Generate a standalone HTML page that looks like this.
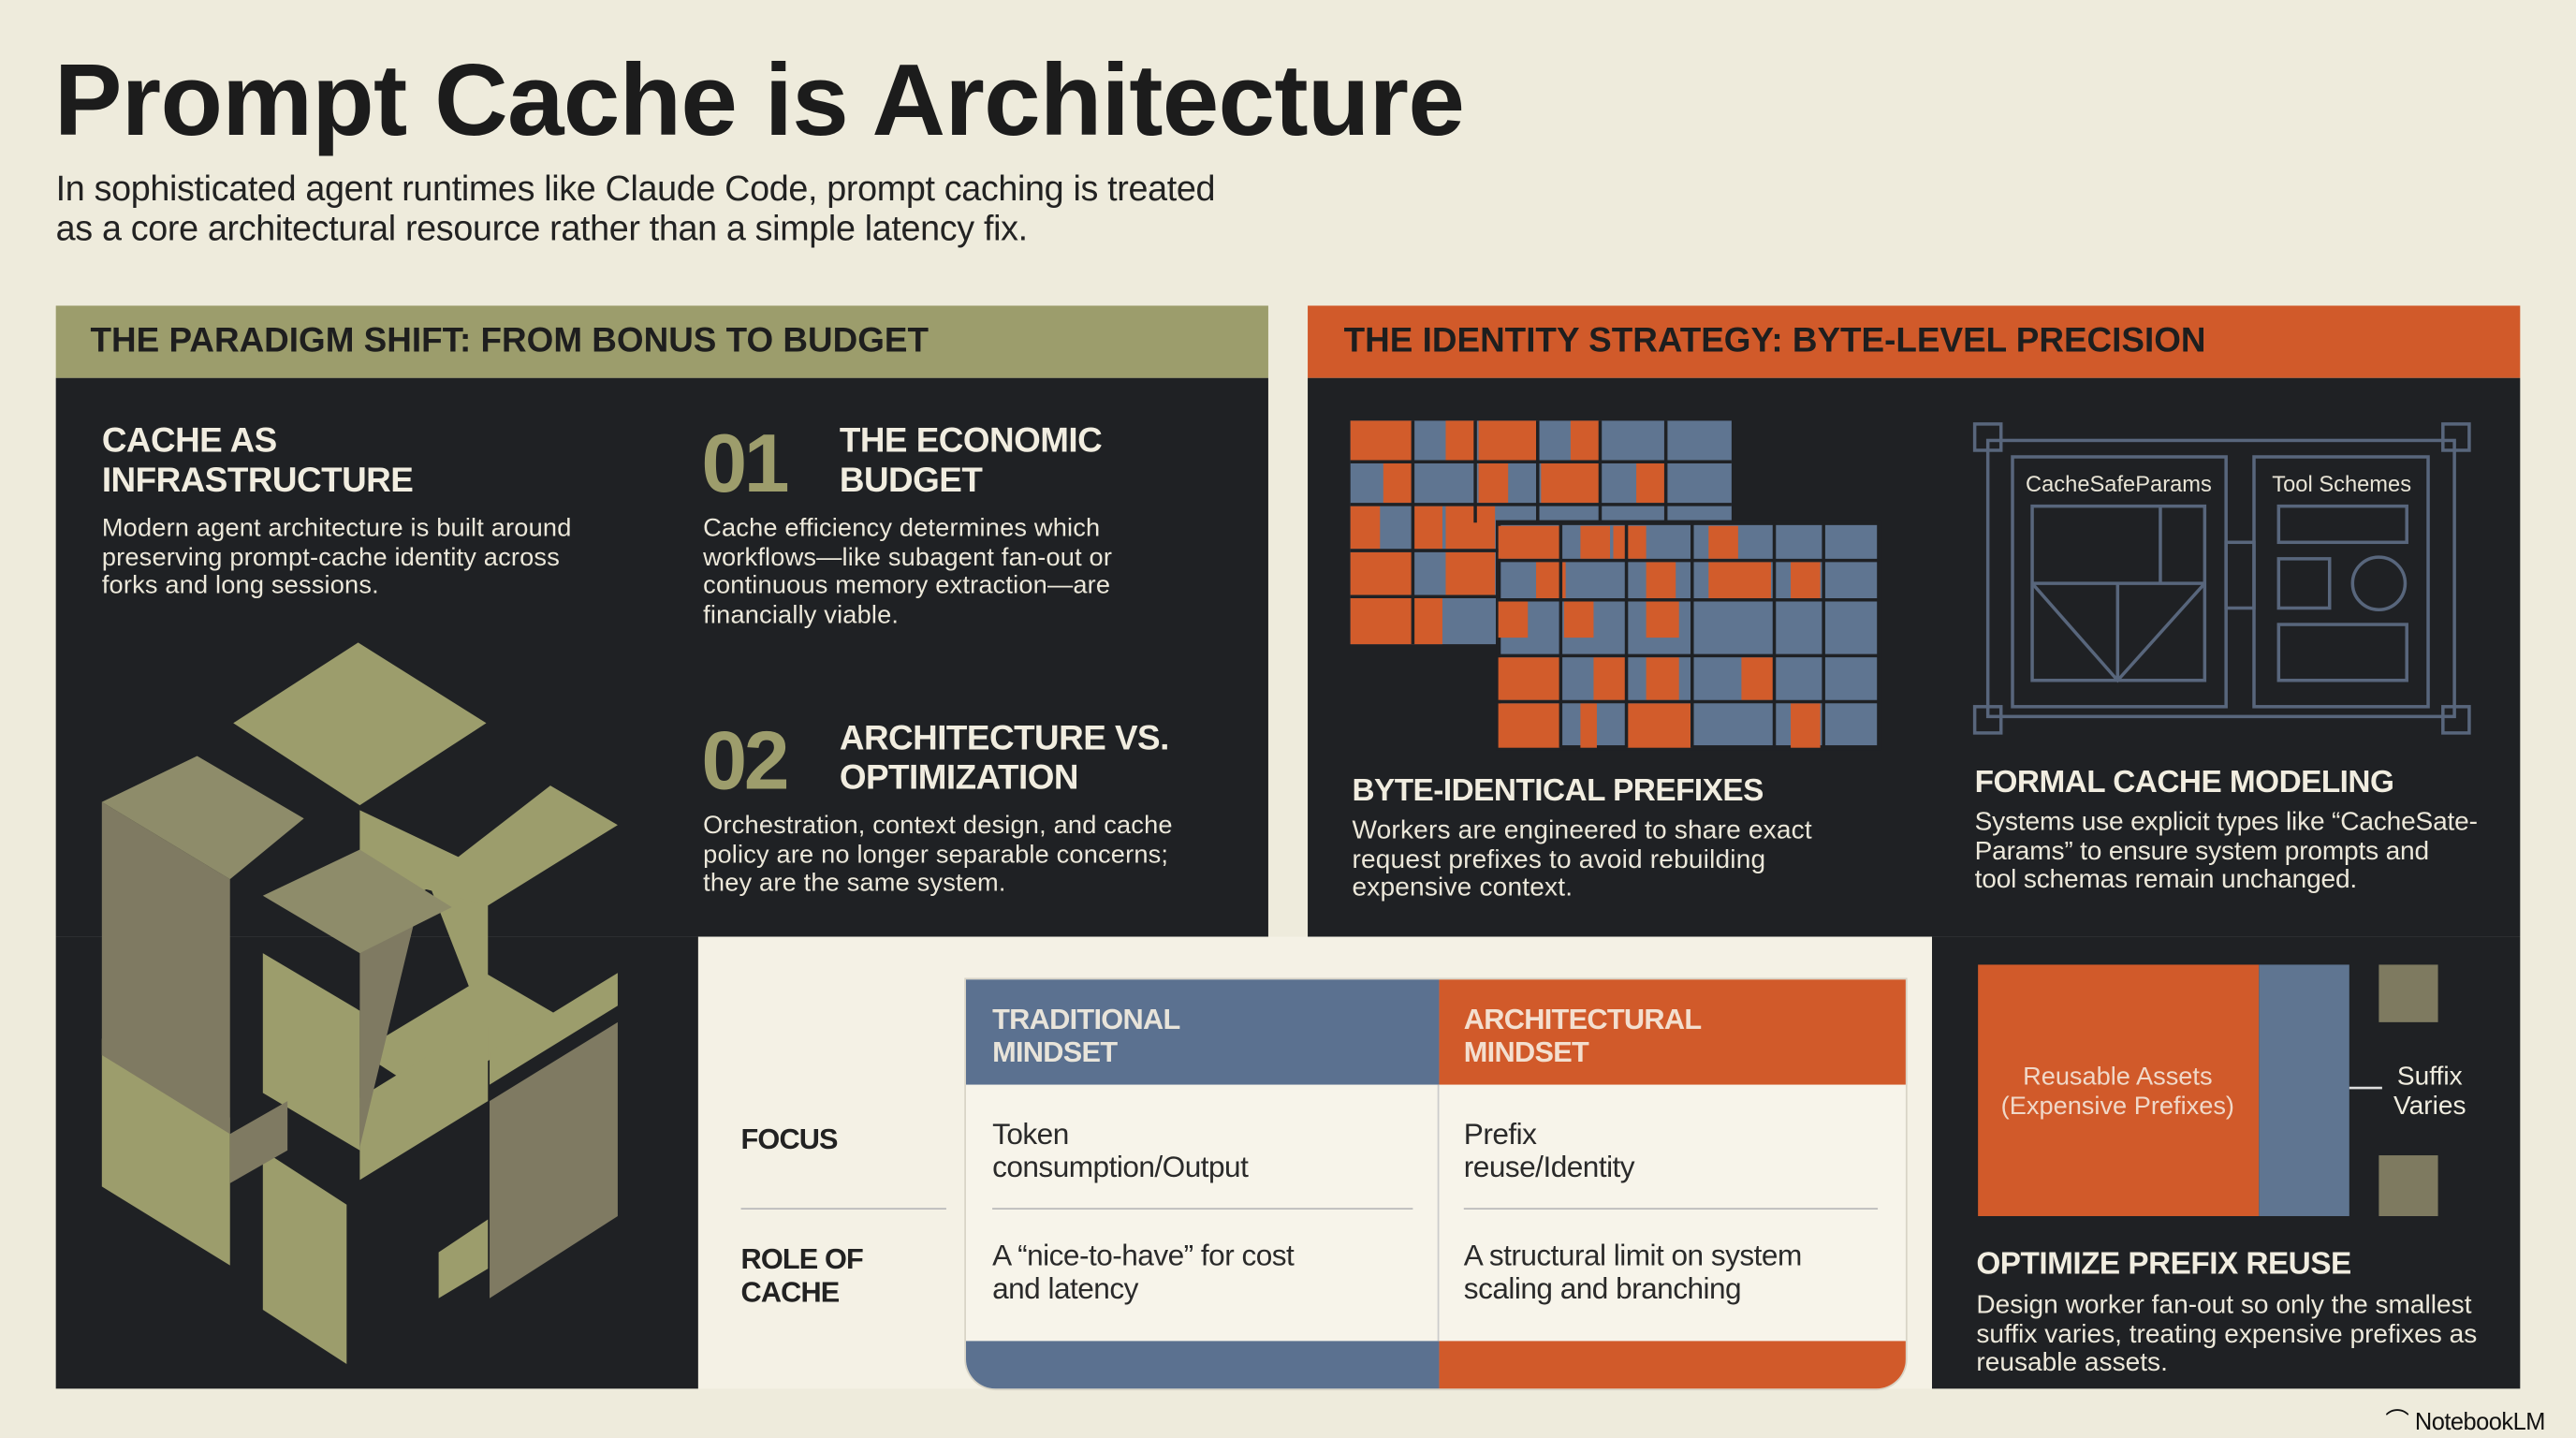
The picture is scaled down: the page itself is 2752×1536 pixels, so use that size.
<!DOCTYPE html>
<html><head><meta charset="utf-8"><style>
html,body{margin:0;padding:0;background:#eeebdc;width:2752px;height:1536px;overflow:hidden}
#w{position:absolute;left:0;top:0;width:1568px;height:875px;transform:scale(1.7551,1.7554);transform-origin:0 0;font-family:"Liberation Sans",sans-serif;background:#eeebdc}
.a{position:absolute;white-space:nowrap}
.dk{background:#1f2124;position:absolute}
.h{font-weight:bold;color:#f1ede0;font-size:21px;line-height:24px;letter-spacing:-0.3px}
.b{color:#ece8da;font-size:15.5px;line-height:17.5px;letter-spacing:0.1px}
.num{color:#9d9d6c;font-weight:bold;font-size:50px;letter-spacing:-2px;line-height:50px}
.cell{color:#2a2a2a;font-size:18px;line-height:20px;letter-spacing:-0.3px}
.lab{color:#222;font-weight:bold;font-size:17.5px;line-height:20px;letter-spacing:-0.5px}
</style></head><body><div id="w">
<div class="a" style="left:33px;top:26px;font-size:62px;font-weight:bold;letter-spacing:-0.4px;color:#1c1c1c">Prompt Cache is Architecture</div>
<div class="a" style="left:34px;top:103px;font-size:21.5px;line-height:24px;color:#222;letter-spacing:-0.2px">In sophisticated agent runtimes like Claude Code, prompt caching is treated<br>as a core architectural resource rather than a simple latency fix.</div>

<!-- left panel -->
<div class="a" style="left:34px;top:186px;width:738px;height:44px;background:#9c9d6c"></div>
<div class="a" style="left:55px;top:196px;font-size:21px;font-weight:bold;color:#1e1e1e;letter-spacing:0px">THE PARADIGM SHIFT: FROM BONUS TO BUDGET</div>
<div class="dk" style="left:34px;top:230px;width:738px;height:340px"></div>
<div class="dk" style="left:34px;top:570px;width:391px;height:275px"></div>
<div class="a h" style="left:62px;top:257px">CACHE AS<br>INFRASTRUCTURE</div>
<div class="a b" style="left:62px;top:313px">Modern agent architecture is built around<br>preserving prompt-cache identity across<br>forks and long sessions.</div>
<div class="a num" style="left:427px;top:257px">01</div>
<div class="a h" style="left:511px;top:257px">THE ECONOMIC<br>BUDGET</div>
<div class="a b" style="left:428px;top:313px">Cache efficiency determines which<br>workflows—like subagent fan-out or<br>continuous memory extraction—are<br>financially viable.</div>
<div class="a num" style="left:427px;top:438px">02</div>
<div class="a h" style="left:511px;top:438px">ARCHITECTURE VS.<br>OPTIMIZATION</div>
<div class="a b" style="left:428px;top:494px">Orchestration, context design, and cache<br>policy are no longer separable concerns;<br>they are the same system.</div>
<svg class="a" style="left:0;top:0" width="772" height="845" viewBox="0 0 772 845">
<g fill="#9c9d6c">
<polygon points="142,440 218,391 296,440 219,490"/>
<polygon points="219,493 297,530 297,630 262,540 219,560"/>
<polygon points="255,540 335,478 376,502 297,551"/>
<polygon points="219,640 297,593 340,618 262,668"/>
<polygon points="62,632 140,680 140,770 62,722"/>
<polygon points="160,700 211,733 211,830 160,797"/>
<polygon points="219,668 297,620 297,670 219,718"/>
<polygon points="267,762 297,742 297,772 267,790"/>
<polygon points="298,640 376,592 376,612 298,660"/>
<polygon points="160,580 219,615 219,700 160,665"/>
</g>
<g fill="#7f7a62">
<polygon points="62,488 140,535 140,690 62,642"/>
<polygon points="298,670 376,622 376,740 298,790"/>
<polygon points="140,690 175,670 175,700 140,720"/>
<polygon points="219,560 256,545 219,698"/>
</g>
<g fill="#8e8c6a">
<polygon points="62,488 120,460 185,498 140,535"/>
<polygon points="160,545 219,517 275,552 219,580"/>
</g>
</svg>

<!-- right panel -->
<div class="a" style="left:796px;top:186px;width:738px;height:44px;background:#d15a2a"></div>
<div class="a" style="left:818px;top:196px;font-size:21px;font-weight:bold;color:#1e1e1e;letter-spacing:0px">THE IDENTITY STRATEGY: BYTE-LEVEL PRECISION</div>
<div class="dk" style="left:796px;top:230px;width:738px;height:340px"></div>
<div class="dk" style="left:1176px;top:570px;width:358px;height:275px"></div>
<svg class="a" style="left:0;top:0" width="1568" height="875">
<rect x="822" y="256" width="232" height="136" fill="#5f7591"/>
<g fill="#d25c2b">
<rect x="822" y="256" width="38" height="24"/><rect x="880" y="256" width="18" height="24"/><rect x="900" y="256" width="36" height="24"/><rect x="956" y="256" width="18" height="24"/>
<rect x="842" y="282" width="18" height="24"/><rect x="900" y="282" width="18" height="24"/><rect x="938" y="282" width="36" height="24"/><rect x="996" y="282" width="18" height="24"/>
<rect x="822" y="308" width="18" height="26"/><rect x="860" y="308" width="18" height="26"/><rect x="880" y="308" width="30" height="26"/>
<rect x="822" y="336" width="38" height="26"/><rect x="880" y="336" width="30" height="26"/>
<rect x="822" y="364" width="38" height="28"/><rect x="860" y="364" width="18" height="28"/>
</g>
<rect x="912" y="318" width="232" height="137" fill="#5f7591" stroke="#1f2124" stroke-width="3"/>
<g fill="#d25c2b">
<rect x="912" y="320" width="38" height="20"/><rect x="962" y="320" width="18" height="20"/><rect x="982" y="320" width="20" height="20"/><rect x="1040" y="320" width="18" height="20"/>
<rect x="935" y="342" width="18" height="22"/><rect x="1002" y="342" width="18" height="22"/><rect x="1040" y="342" width="38" height="22"/><rect x="1090" y="342" width="18" height="22"/>
<rect x="912" y="366" width="18" height="22"/><rect x="952" y="366" width="18" height="22"/><rect x="1002" y="366" width="20" height="22"/>
<rect x="912" y="400" width="38" height="26"/><rect x="970" y="400" width="20" height="26"/><rect x="1002" y="400" width="20" height="26"/><rect x="1060" y="400" width="20" height="26"/>
<rect x="912" y="428" width="38" height="27"/><rect x="962" y="428" width="10" height="27"/><rect x="990" y="428" width="40" height="27"/><rect x="1090" y="428" width="18" height="27"/>
</g>
<g stroke="#1f2124" stroke-width="2">
<line x1="822" y1="281" x2="1054" y2="281"/><line x1="822" y1="307" x2="1054" y2="307"/><line x1="822" y1="335" x2="912" y2="335"/><line x1="822" y1="363" x2="912" y2="363"/>
<line x1="860" y1="256" x2="860" y2="392"/><line x1="898" y1="256" x2="898" y2="318"/><line x1="936" y1="256" x2="936" y2="318"/><line x1="974" y1="256" x2="974" y2="318"/><line x1="1014" y1="256" x2="1014" y2="318"/>
<line x1="912" y1="341" x2="1144" y2="341"/><line x1="912" y1="365" x2="1144" y2="365"/><line x1="912" y1="399" x2="1144" y2="399"/><line x1="912" y1="427" x2="1144" y2="427"/>
<line x1="950" y1="318" x2="950" y2="455"/><line x1="990" y1="318" x2="990" y2="455"/><line x1="1030" y1="318" x2="1030" y2="455"/><line x1="1080" y1="318" x2="1080" y2="455"/><line x1="1110" y1="318" x2="1110" y2="455"/>
</g>
<g stroke="#58667c" stroke-width="2" fill="none">
<rect x="1210" y="268" width="284" height="168"/>
<rect x="1202" y="258" width="16" height="16"/><rect x="1487" y="258" width="16" height="16"/><rect x="1202" y="430" width="16" height="16"/><rect x="1487" y="430" width="16" height="16"/>
<rect x="1225" y="278" width="130" height="152"/><rect x="1372" y="278" width="106" height="152"/>
<rect x="1237" y="308" width="105" height="106"/><line x1="1315" y1="308" x2="1315" y2="355"/><line x1="1237" y1="355" x2="1342" y2="355"/>
<polyline points="1237,355 1289,414 1342,355"/><line x1="1289" y1="355" x2="1289" y2="414"/>
<rect x="1387" y="308" width="78" height="22"/><rect x="1387" y="340" width="31" height="30"/><circle cx="1448" cy="355" r="16"/><rect x="1387" y="380" width="78" height="34"/>
<rect x="1355" y="330" width="17" height="40"/>
</g>
<text x="1233" y="299" fill="#e8e4d6" font-size="13.5" font-family="Liberation Sans">CacheSafeParams</text>
<text x="1383" y="299" fill="#e8e4d6" font-size="13.5" font-family="Liberation Sans">Tool Schemes</text>
<rect x="1204" y="587" width="171" height="153" fill="#d15a2a"/>
<rect x="1375" y="587" width="55" height="153" fill="#5f7591"/>
<rect x="1448" y="587" width="36" height="35" fill="#7e7a60"/>
<rect x="1448" y="703" width="36" height="37" fill="#7e7a60"/>
<line x1="1430" y1="662" x2="1450" y2="662" stroke="#ddd" stroke-width="1.5"/>
<text x="1289" y="660" text-anchor="middle" fill="#f0d8c8" font-size="15.5" font-family="Liberation Sans">Reusable Assets</text>
<text x="1289" y="678" text-anchor="middle" fill="#f0d8c8" font-size="15.5" font-family="Liberation Sans">(Expensive Prefixes)</text>
<text x="1479" y="660" text-anchor="middle" fill="#f0ede0" font-size="16" font-family="Liberation Sans">Suffix</text>
<text x="1479" y="678" text-anchor="middle" fill="#f0ede0" font-size="16" font-family="Liberation Sans">Varies</text>
</svg>
<div class="a h" style="left:823px;top:470px;font-size:19px">BYTE-IDENTICAL PREFIXES</div>
<div class="a b" style="left:823px;top:497px;font-size:16px">Workers are engineered to share exact<br>request prefixes to avoid rebuilding<br>expensive context.</div>
<div class="a h" style="left:1202px;top:465px;font-size:19px">FORMAL CACHE MODELING</div>
<div class="a b" style="left:1202px;top:492px;font-size:16px;letter-spacing:-0.1px">Systems use explicit types like “CacheSate-<br>Params” to ensure system prompts and<br>tool schemas remain unchanged.</div>
<div class="a h" style="left:1203px;top:758px;font-size:19px">OPTIMIZE PREFIX REUSE</div>
<div class="a b" style="left:1203px;top:786px;font-size:16px;letter-spacing:0px">Design worker fan-out so only the smallest<br>suffix varies, treating expensive prefixes as<br>reusable assets.</div>

<!-- table -->
<div class="a" style="left:425px;top:570px;width:751px;height:275px;background:#f4f1e5"></div>
<div class="a" style="left:588px;top:596px;width:572px;height:249px;border-radius:0 0 18px 18px;overflow:hidden;background:#f7f4ea;box-shadow:0 0 0 1px #d8d4c6">
 <div class="a" style="left:0;top:0;width:288px;height:64px;background:#5b7190"></div>
 <div class="a" style="left:288px;top:0;width:284px;height:64px;background:#d15a2a"></div>
 <div class="a" style="left:0;top:220px;width:288px;height:29px;background:#5b7190"></div>
 <div class="a" style="left:288px;top:220px;width:284px;height:29px;background:#d15a2a"></div>
 <div class="a" style="left:287px;top:64px;width:1px;height:156px;background:#ccc"></div>
</div>
<div class="a" style="left:604px;top:610px;color:#e8e4da;font-weight:bold;font-size:17.5px;line-height:20px;letter-spacing:-0.4px">TRADITIONAL<br>MINDSET</div>
<div class="a" style="left:891px;top:610px;color:#f3dfcf;font-weight:bold;font-size:17.5px;line-height:20px;letter-spacing:-0.4px">ARCHITECTURAL<br>MINDSET</div>
<div class="a lab" style="left:451px;top:683px">FOCUS</div>
<div class="a lab" style="left:451px;top:756px">ROLE OF<br>CACHE</div>
<div class="a" style="left:451px;top:735px;width:125px;height:1px;background:#bbb"></div>
<div class="a" style="left:604px;top:735px;width:256px;height:1px;background:#bbb"></div>
<div class="a" style="left:891px;top:735px;width:252px;height:1px;background:#bbb"></div>
<div class="a cell" style="left:604px;top:680px">Token<br>consumption/Output</div>
<div class="a cell" style="left:891px;top:680px">Prefix<br>reuse/Identity</div>
<div class="a cell" style="left:604px;top:754px">A “nice-to-have” for cost<br>and latency</div>
<div class="a cell" style="left:891px;top:754px">A structural limit on system<br>scaling and branching</div>

<div class="a" style="left:1452px;top:854px;font-size:14.5px;color:#111;letter-spacing:-0.3px">⌒ NotebookLM</div>
</div></body></html>
